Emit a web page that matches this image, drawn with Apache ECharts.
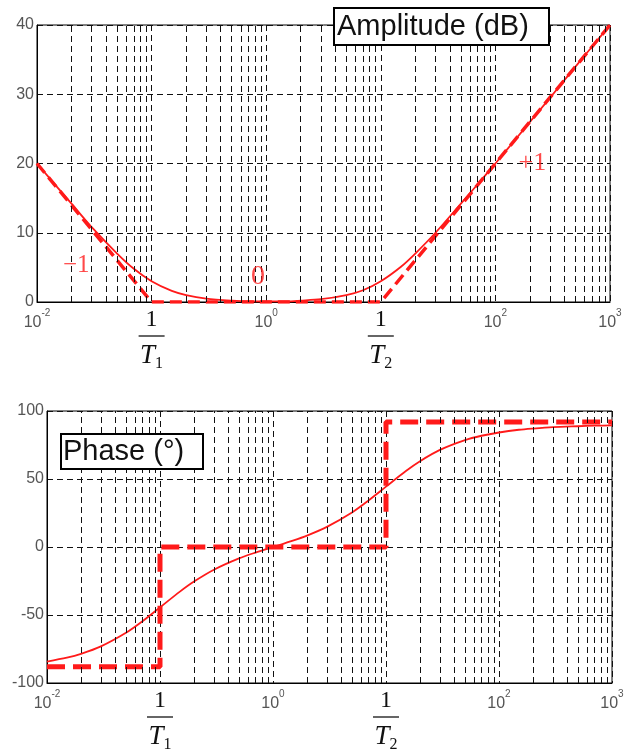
<!DOCTYPE html>
<html style="height: 100%">
    <head>
        <meta charset="utf-8" />
    </head>
    <body style="height: 100%; margin: 0; background: #fff">
        <div id="container" style="width: 627px; height: 756px"></div>

        <script
            type="text/javascript"
            src="https://cdn.jsdelivr.net/npm/echarts@6/dist/echarts.min.js"
        ></script>

        <script type="text/javascript">
            var freq = [0.01, 0.015, 0.02, 0.03, 0.05, 0.07, 0.1, 0.15, 0.2, 0.3, 0.5, 0.7, 1, 1.5, 2, 3, 5, 7, 10, 15, 20, 30, 50, 70, 100, 150, 200, 300, 500, 700, 1000];
            var ampDb = [20.0, 16.6, 14.2, 10.8, 7.0, 4.8, 3.0, 1.6, 1.0, 0.5, 0.2, 0.1, 0.1, 0.1, 0.2, 0.4, 1.0, 1.7, 3.0, 5.1, 7.0, 10.0, 14.2, 17.0, 20.0, 23.5, 26.0, 29.5, 34.0, 36.9, 40.0];
            var phaseDeg = [-84.2, -81.4, -78.6, -73.1, -63.1, -54.6, -44.4, -32.8, -25.4, -16.7, -8.4, -4.1, 0, 4.7, 8.4, 14.8, 25.4, 34.2, 44.4, 55.9, 63.1, 71.4, 78.6, 81.8, 84.2, 86.2, 87.1, 88.1, 88.8, 89.2, 89.4];

            // asymptotes
            var asymFreq = [0.01, 0.1, 10, 1000];
            var asymDb = [20, 0, 0, 40];
            var stepFreq = [0.01, 0.1, 0.1, 10, 10, 1000];
            var stepDeg = [-88, -88, 0, 0, 92, 92];

            // slope annotations on the amplitude plot
            var noteText = ['\u22121', '0', '+1'];
            var noteFreq = [0.022, 0.85, 210];
            var noteDb = [5.3, 3.6, 20.1];
            var noteSize = [25, 28, 26];

            // minor grid lines of the log axis
            var decades = [0.01, 0.1, 1, 10, 100];
            var minorMult = [2, 3, 4, 5, 6, 7, 8, 9];

            function zip(xs, ys) {
                return xs.map(function (x, i) {
                    return [x, ys[i]];
                });
            }

            var minorLines = [];
            decades.forEach(function (d) {
                minorMult.forEach(function (m) {
                    minorLines.push({ xAxis: +(d * m).toPrecision(3) });
                });
            });

            var red = '#ff1a1a';
            var gridLine = { color: '#111', type: [6, 4], width: 1 };

            function xLabel(v) {
                var e = Math.round(Math.log10(v));
                if (e === -1) return '{one|1}\n{bar| }\n{t|T}{sub|1}';
                if (e === 1) return '{one|1}\n{bar| }\n{t|T}{sub|2}';
                return '{b|10}{sup|' + e + '}';
            }

            var xRich = {
                b: { fontSize: 16, color: '#555', fontFamily: 'Liberation Sans', lineHeight: 18, padding: [8, 0, 0, 0] },
                sup: { fontSize: 10, color: '#555', fontFamily: 'Liberation Sans', verticalAlign: 'bottom', padding: [0, 0, 11, 0] },
                one: { fontSize: 24, color: '#111', fontFamily: 'Liberation Serif', lineHeight: 24 },
                bar: { width: 26, height: 1.5, backgroundColor: '#333', lineHeight: 8 },
                t: { fontSize: 27, color: '#111', fontFamily: 'Liberation Serif', fontStyle: 'italic', lineHeight: 32 },
                sub: { fontSize: 16, color: '#111', fontFamily: 'Liberation Serif', verticalAlign: 'bottom', padding: [12, 0, 0, 0] }
            };

            function makeX(idx) {
                return {
                    type: 'log',
                    logBase: 10,
                    gridIndex: idx,
                    min: 0.01,
                    max: 1000,
                    axisLine: { onZero: false, lineStyle: { color: '#000', width: 1 } },
                    axisTick: { show: false },
                    splitLine: { show: true, lineStyle: gridLine },
                    axisLabel: {
                        margin: 6,
                        showMinLabel: true,
                        showMaxLabel: true,
                        formatter: xLabel,
                        rich: xRich
                    }
                };
            }

            function makeY(idx, min, max, step) {
                return {
                    type: 'value',
                    gridIndex: idx,
                    min: min,
                    max: max,
                    interval: step,
                    axisLine: { show: true, onZero: false, lineStyle: { color: '#000', width: 1 } },
                    axisTick: { show: false },
                    splitLine: { show: true, lineStyle: gridLine },
                    axisLabel: { color: '#555', fontSize: 16, fontFamily: 'Liberation Sans', margin: 3 }
                };
            }

            function minorSeries(idx) {
                return {
                    type: 'line',
                    xAxisIndex: idx,
                    yAxisIndex: idx,
                    data: [],
                    z: 1,
                    silent: true,
                    markLine: {
                        silent: true,
                        symbol: 'none',
                        animation: false,
                        label: { show: false },
                        lineStyle: gridLine,
                        data: minorLines
                    }
                };
            }

            var dom = document.getElementById('container');
            var myChart = echarts.init(dom, null, { renderer: 'canvas' });

            var option = {
                animation: false,
                backgroundColor: '#fff',
                title: [
                    {
                        text: 'Amplitude (dB)',
                        left: 334,
                        top: 8,
                        padding: [4, 20, 4, 3],
                        borderColor: '#000',
                        borderWidth: 2,
                        backgroundColor: '#fff',
                        textStyle: { fontSize: 29, fontWeight: 'normal', color: '#111', fontFamily: 'Liberation Sans' }
                    },
                    {
                        text: 'Phase (\u00b0)',
                        left: 61,
                        top: 434,
                        padding: [3, 19, 3, 2],
                        borderColor: '#000',
                        borderWidth: 2,
                        backgroundColor: '#fff',
                        textStyle: { fontSize: 29, fontWeight: 'normal', color: '#111', fontFamily: 'Liberation Sans' }
                    }
                ],
                grid: [
                    { left: 37, top: 25, width: 573, height: 277, show: true, borderColor: '#000', borderWidth: 1 },
                    { left: 47, top: 411, width: 565, height: 272, show: true, borderColor: '#000', borderWidth: 1 }
                ],
                xAxis: [makeX(0), makeX(1)],
                yAxis: [makeY(0, 0, 40, 10), makeY(1, -100, 100, 50)],
                series: [
                    minorSeries(0),
                    minorSeries(1),
                    {
                        type: 'line',
                        xAxisIndex: 0,
                        yAxisIndex: 0,
                        data: zip(asymFreq, asymDb),
                        symbol: 'none',
                        z: 3,
                        lineStyle: { color: red, width: 3.5, type: [12, 6] }
                    },
                    {
                        type: 'line',
                        xAxisIndex: 0,
                        yAxisIndex: 0,
                        data: zip(freq, ampDb),
                        symbol: 'none',
                        smooth: 0.3,
                        z: 4,
                        lineStyle: { color: red, width: 1.8 }
                    },
                    {
                        type: 'scatter',
                        xAxisIndex: 0,
                        yAxisIndex: 0,
                        symbolSize: 1,
                        itemStyle: { color: 'transparent' },
                        z: 5,
                        data: noteText.map(function (t, i) {
                            return {
                                name: t,
                                value: [noteFreq[i], noteDb[i]],
                                label: {
                                    show: true,
                                    position: 'inside',
                                    formatter: '{b}',
                                    color: red,
                                    fontSize: noteSize[i],
                                    fontFamily: 'Liberation Serif'
                                }
                            };
                        })
                    },
                    {
                        type: 'line',
                        xAxisIndex: 1,
                        yAxisIndex: 1,
                        data: zip(stepFreq, stepDeg),
                        symbol: 'none',
                        z: 3,
                        lineStyle: { color: red, width: 5, type: [18, 8] }
                    },
                    {
                        type: 'line',
                        xAxisIndex: 1,
                        yAxisIndex: 1,
                        data: zip(freq, phaseDeg),
                        symbol: 'none',
                        smooth: 0.3,
                        z: 4,
                        lineStyle: { color: red, width: 1.8 }
                    }
                ]
            };

            myChart.setOption(option);
            window.addEventListener('resize', myChart.resize);
        </script>
    </body>
</html>
